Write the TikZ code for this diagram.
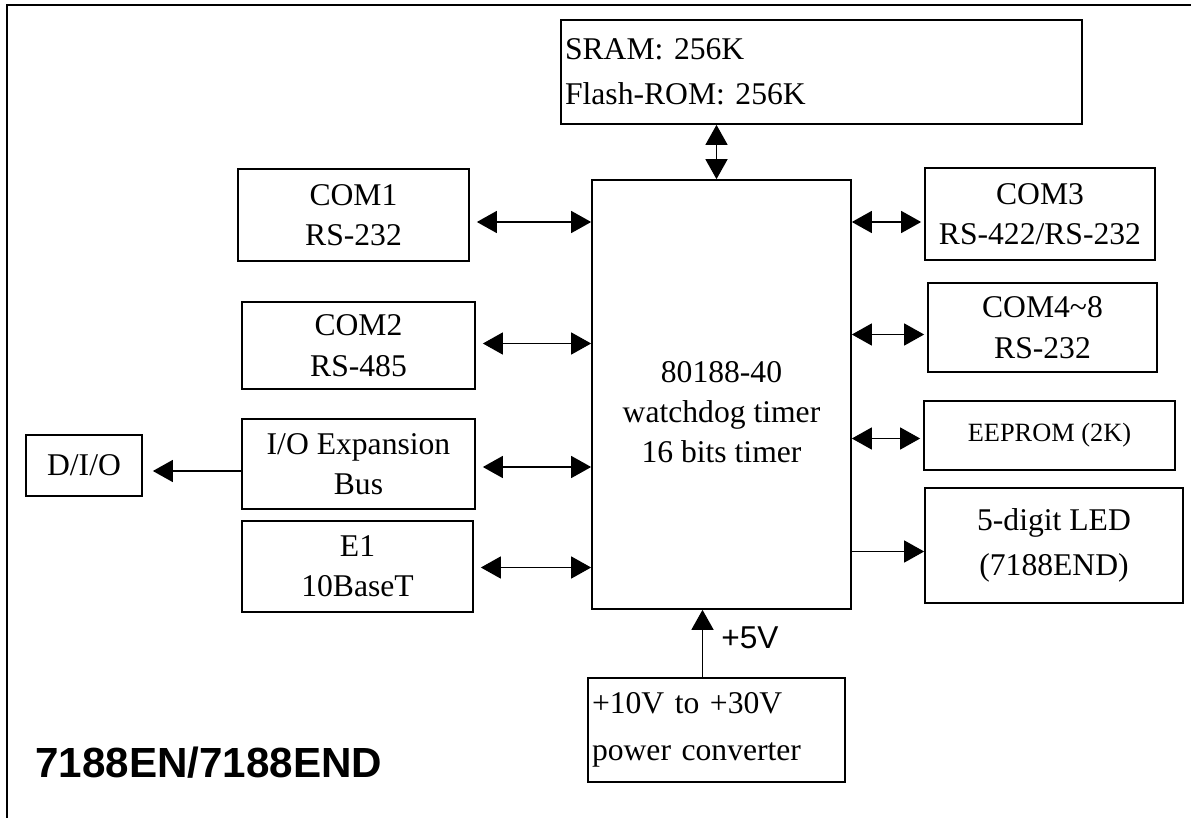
\documentclass[tikz,border=0pt]{standalone}
\usepackage{fontspec}
\setmainfont{Liberation Serif}
\setsansfont{Liberation Sans}
\usetikzlibrary{arrows.meta, calc}

\begin{document}
\begin{tikzpicture}[x=0.02cm, y=-0.02cm,
  box/.style={draw, line width=1pt, align=center, inner sep=0pt,
    font=\fontsize{18}{23}\selectfont},
  biarrow/.style={{Triangle[length=0.4cm,width=0.44cm]}-{Triangle[length=0.4cm,width=0.44cm]}, line width=0.85pt},
  onearrow/.style={-{Triangle[length=0.4cm,width=0.44cm]}, line width=0.85pt}]
  % page size of the scan, 1 unit = 1 px
  \useasboundingbox (0,0) rectangle (1191,818);
  % open frame: top and left edge only
  \draw[line width=1.2pt] (1191,5) -- (7,5) -- (7,818);
  % memory on top
  \node[box, minimum width=10.42cm, minimum height=2.08cm, text width=10.26cm,
    align=left, inner xsep=0.08cm, font=\fontsize{18}{25.6}\selectfont]
    (sram) at (821.5,72) {SRAM: 256K\\Flash-ROM: 256K};
  % CPU block, text sits a bit below centre
  \node[box, minimum width=5.18cm, minimum height=8.58cm] (cpu) at (721.5,394.5) {};
  \node[font=\fontsize{18}{22.8}\selectfont, align=center] (cputxt) at (721.5,412)
    {80188-40\\watchdog timer\\16 bits timer};
  % ports left and right of the CPU
  \foreach \n/\x/\y/\w/\h/\t in {
      com1/353.5/215/4.62/1.84/{COM1\\RS-232},
      com2/358.5/345.5/4.66/1.74/{COM2\\RS-485},
      iob/358.5/464/4.66/1.80/{I/O Expansion\\Bus},
      eth/357.5/566.5/4.62/1.82/{E1\\10BaseT},
      com3/1040/214/4.60/1.84/{COM3\\RS-422/RS-232},
      com48/1042.5/327.5/4.58/1.78/{COM4\textasciitilde8\\RS-232}} {
    \node[box, minimum width=\w cm, minimum height=\h cm] (\n) at (\x,\y) {\t};
  }
  \node[box, minimum width=5.02cm, minimum height=1.38cm, font=\fontsize{15}{18}\selectfont]
    (eeprom) at (1049.5,435.5) {EEPROM (2K)};
  \node[box, minimum width=5.16cm, minimum height=2.30cm, font=\fontsize{18}{26}\selectfont]
    (led) at (1054,545.5) {5-digit LED\\(7188END)};
  \node[box, minimum width=2.32cm, minimum height=1.22cm] (dio) at (84,465.5) {D/I/O};
  % power supply
  \node[box, minimum width=5.14cm, minimum height=2.08cm, text width=4.98cm,
    align=left, inner xsep=0.08cm, font=\fontsize{18}{27}\selectfont]
    (power) at (716.5,730) {+10V to +30V\\power converter};
  % connectors
  \foreach \n/\dy in {com1/7, com2/-2, iob/3, eth/1}
    \draw[biarrow] ($(\n.east)+(7,\dy)$) -- ($(\n.east -| cpu.west)+(0,\dy)$);
  \foreach \n/\dy in {com3/8, com48/7, eeprom/3}
    \draw[biarrow] ($(\n.west -| cpu.east)+(0,\dy)$) -- ($(\n.west)+(-3,\dy)$);
  \draw[onearrow] ($(led.west -| cpu.east)+(0,6)$) -- ($(led.west)+(0,6)$);
  \draw[onearrow] ($(iob.west)+(0,7)$) -- ($(dio.east |- iob.west)+(10,7)$);
  \draw[biarrow] ($(cpu.north)+(-5,0)$) -- ($(cpu.north |- sram.south)+(-5,0)$);
  \draw[onearrow] ($(power.north)+(-14,0)$) -- ($(power.north |- cpu.south)+(-14,0)$);
  \node[font=\sffamily\fontsize{18}{22}\selectfont] (vfive) at (750,638) {+5V};
  % board name
  \node[anchor=base west, inner sep=0pt, font=\sffamily\bfseries\fontsize{24}{28}\selectfont]
    (title) at (35,777) {7188EN/7188END};
\end{tikzpicture}
\end{document}
